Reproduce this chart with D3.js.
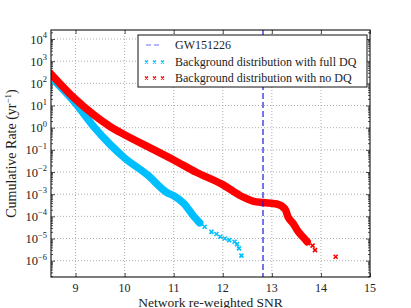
<!DOCTYPE html>
<html><head><meta charset="utf-8">
<script src="https://cdn.jsdelivr.net/npm/d3@7"></script>
<style>
body{margin:0;background:#fff;}
text{font-family:"Liberation Serif","Times New Roman",serif;fill:#222;}
</style></head>
<body><svg id="c" width="411" height="308"></svg>
<script>
// ---- data ----
const redDenseSNR  = [8.49, 9.0, 9.37, 9.71, 10.0, 10.53, 11.0, 11.47, 12.0, 12.36, 12.63, 12.82, 13.10, 13.27, 13.33, 13.43, 13.54, 13.64, 13.72];
const redDenseRate = [280, 19, 3.8, 1.1, 0.48, 0.12, 0.035, 0.0095, 0.0027, 8.5e-4, 4.8e-4, 4.2e-4, 3.6e-4, 2.1e-4, 9.5e-5, 4.9e-5, 2.0e-5, 1.15e-5, 7.2e-6];
const redSparseSNR  = [13.74, 13.83, 13.88, 14.30];
const redSparseRate = [6.2e-6, 4.8e-6, 3.0e-6, 1.5e-6];
const blueDenseSNR  = [8.49, 9.0, 9.37, 9.71, 10.0, 10.46, 10.86, 11.0, 11.2, 11.41, 11.53];
const blueDenseRate = [200, 12.6, 1.12, 0.17, 0.043, 0.0076, 0.0012, 8.5e-4, 4.0e-4, 1.0e-4, 5.1e-5];
const blueSparseSNR  = [11.55, 11.63, 11.77, 11.87, 11.95, 12.04, 12.13, 12.24, 12.29, 12.33, 12.38];
const blueSparseRate = [4.9e-5, 3.4e-5, 2.0e-5, 1.6e-5, 1.2e-5, 1.0e-5, 8.5e-6, 7.2e-6, 5.6e-6, 3.6e-6, 1.7e-6];
const eventSNR = 12.82;
const xTicks = [9, 10, 11, 12, 13, 14, 15];
const yExponents = [-6, -5, -4, -3, -2, -1, 0, 1, 2, 3, 4];
const legendLabels = ["GW151226", "Background distribution with full DQ", "Background distribution with no DQ"];
const xLabel = "Network re-weighted SNR";

// ---- layout ----
const L = 51, R = 370, T = 30, B = 277;
const svg = d3.select("#c");
svg.append("rect").attr("width",411).attr("height",308).attr("fill","#fff");
const x = d3.scaleLinear().domain([8.5, 15]).range([L, R]);
const y = d3.scaleLog().domain([Math.pow(10,-6.735), Math.pow(10,4.406)]).range([B, T]);

svg.append("clipPath").attr("id","clip").append("rect")
  .attr("x",L).attr("y",T).attr("width",R-L).attr("height",B-T);

// grid
const grid = svg.append("g").attr("stroke","#999").attr("stroke-width",0.8).attr("stroke-dasharray","1,2");
xTicks.forEach(t => { if (t < 15) grid.append("line").attr("x1",x(t)).attr("x2",x(t)).attr("y1",T).attr("y2",B); });
yExponents.forEach(e => grid.append("line").attr("x1",L).attr("x2",R).attr("y1",y(Math.pow(10,e))).attr("y2",y(Math.pow(10,e))));

// axes using d3 axes (ticks inward)
const yMinor = [];
for (let e = -7; e <= 4; e++) for (let m = 2; m <= 9; m++) { const v = m*Math.pow(10,e); if (v >= y.domain()[0] && v <= y.domain()[1]) yMinor.push(v); }
function styleAxis(g){ g.select(".domain").remove(); g.selectAll("line").attr("stroke","#222").attr("stroke-width",0.8); }
svg.append("g").attr("transform",`translate(${L},0)`).call(d3.axisRight(y).tickValues(yExponents.map(e=>Math.pow(10,e))).tickSize(4).tickFormat("")).call(styleAxis);
svg.append("g").attr("transform",`translate(${L},0)`).call(d3.axisRight(y).tickValues(yMinor).tickSize(2).tickFormat("")).call(styleAxis);
svg.append("g").attr("transform",`translate(${R},0)`).call(d3.axisLeft(y).tickValues(yExponents.map(e=>Math.pow(10,e))).tickSize(4).tickFormat("")).call(styleAxis);
svg.append("g").attr("transform",`translate(${R},0)`).call(d3.axisLeft(y).tickValues(yMinor).tickSize(2).tickFormat("")).call(styleAxis);
svg.append("g").attr("transform",`translate(0,${B})`).call(d3.axisTop(x).tickValues(xTicks).tickSize(4).tickFormat("")).call(styleAxis);
svg.append("g").attr("transform",`translate(0,${T})`).call(d3.axisBottom(x).tickValues(xTicks).tickSize(4).tickFormat("")).call(styleAxis);

// tick labels
xTicks.forEach(t => svg.append("text").attr("x",x(t)).attr("y",B+14.5).attr("text-anchor","middle").attr("font-size",12).text(t));
yExponents.forEach(e => {
  const tx = svg.append("text").attr("x",47).attr("y",y(Math.pow(10,e))+4.5).attr("text-anchor","end").attr("font-size",12.5);
  tx.append("tspan").text("10");
  tx.append("tspan").attr("dy",-5.5).attr("font-size",8.5).text(e < 0 ? "\u2212"+(-e) : String(e));
});

// data
const plot = svg.append("g").attr("clip-path","url(#clip)");
const line = d3.line().x(d=>x(d[0])).y(d=>y(d[1])).curve(d3.curveMonotoneX);
const blueColor = "#00bfff", redColor = "#ff0000";
function xMark(g, cx, cy, s, col, w){
  g.append("path").attr("d",`M${cx-s},${cy-s}L${cx+s},${cy+s}M${cx-s},${cy+s}L${cx+s},${cy-s}`)
   .attr("stroke",col).attr("stroke-width",w).attr("fill","none");
}
plot.append("path").attr("d",line(d3.zip(blueDenseSNR, blueDenseRate))).attr("fill","none").attr("stroke",blueColor).attr("stroke-width",7.5).attr("stroke-linecap","round");
blueSparseSNR.forEach((s,i)=> xMark(plot, x(s), y(blueSparseRate[i]), 2, blueColor, 1.6));
plot.append("path").attr("d",line(d3.zip(redDenseSNR, redDenseRate))).attr("fill","none").attr("stroke",redColor).attr("stroke-width",7.5).attr("stroke-linecap","round");
redSparseSNR.forEach((s,i)=> xMark(plot, x(s), y(redSparseRate[i]), 2, redColor, 1.6));

// event line
svg.append("line").attr("x1",x(eventSNR)).attr("x2",x(eventSNR)).attr("y1",T).attr("y2",B)
  .attr("stroke","#1a1ae0").attr("stroke-width",1.2).attr("stroke-dasharray","6,3");

// frame
svg.append("rect").attr("x",L).attr("y",T).attr("width",R-L).attr("height",B-T).attr("fill","none").attr("stroke","#111").attr("stroke-width",1.1);

// legend
const lg = svg.append("g");
lg.append("rect").attr("x",138).attr("y",35).attr("width",229).attr("height",52).attr("fill","#fff").attr("stroke","#111").attr("stroke-width",1);
lg.append("line").attr("x1",146).attr("x2",161).attr("y1",45).attr("y2",45).attr("stroke","#6f6fff").attr("stroke-width",1.2).attr("stroke-dasharray","5,3");
[146.5, 154.5, 162.5].forEach(px => { xMark(lg, px, 62, 1.5, blueColor, 1.4); xMark(lg, px, 78, 1.5, redColor, 1.4); });
[45, 62, 78].forEach((py,i) => lg.append("text").attr("x",175).attr("y",py+4).attr("font-size",12).text(legendLabels[i]));

// axis labels
svg.append("text").attr("x",(L+R)/2).attr("y",306.5).attr("text-anchor","middle").attr("font-size",13.5).text(xLabel);
const yl = svg.append("text").attr("transform",`translate(16,${(T+B)/2}) rotate(-90)`).attr("text-anchor","middle").attr("font-size",14);
yl.append("tspan").text("Cumulative Rate (yr");
yl.append("tspan").attr("dy",-5).attr("font-size",9).text("\u22121");
yl.append("tspan").attr("dy",5).text(")");
</script></body></html>
